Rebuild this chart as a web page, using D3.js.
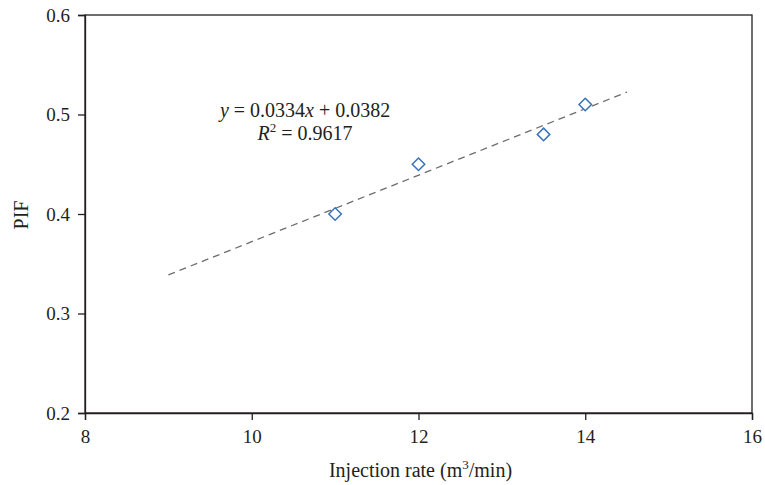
<!doctype html>
<html lang="en">
<head>
<meta charset="UTF-8">
<title>PIF vs injection rate</title>
<style>
  body { margin: 0; background: #fff; }
  text { font-family: "Liberation Serif", "DejaVu Serif", serif; fill: #231f20; }
</style>
</head>
<body>
<svg id="chart" width="765" height="485"></svg>
<script src="https://d3js.org/d3.v7.min.js"></script>
<script>
// data
const injectionRate = [11, 12, 13.5, 14];
const pif = [0.40, 0.45, 0.48, 0.51];
const xTicks = [8, 10, 12, 14, 16];
const yTicks = [0.2, 0.3, 0.4, 0.5, 0.6];
const fitSlope = 0.0334, fitIntercept = 0.0382;
const fitRange = [9, 14.5];

let margin = {top: 15, right: 13, bottom: 72, left: 85},
    width = 765 - margin.left - margin.right,
    height = 485 - margin.top - margin.bottom;

let x = d3.scaleLinear().domain([8, 16]).range([0, width]);
let y = d3.scaleLinear().domain([0.2, 0.6]).range([height, 0]);

let svg = d3.select("#chart")
    .append("g")
    .attr("transform", `translate(${margin.left},${margin.top})`);

// frame
svg.append("rect")
    .attr("width", width).attr("height", height)
    .attr("fill", "none").attr("stroke", "#231f20").attr("stroke-width", 1.3);

let xAxis = svg.append("g")
    .attr("transform", `translate(0,${height})`)
    .call(d3.axisBottom(x).tickValues(xTicks).tickSize(7).tickPadding(10).tickFormat(d3.format("d")));
let yAxis = svg.append("g")
    .call(d3.axisLeft(y).tickValues(yTicks).tickSize(7).tickPadding(8).tickFormat(d3.format(".1f")));

[xAxis, yAxis].forEach(a => {
    a.select(".domain").attr("stroke", "#231f20").attr("stroke-width", 1.3);
    a.selectAll(".tick line").attr("stroke", "#231f20").attr("stroke-width", 1.3);
    a.selectAll("text").attr("font-size", "19px").attr("font-family", null).attr("fill", "#231f20");
});

// trend line
let fitLine = d3.line()
    .x(d => x(d))
    .y(d => y(fitSlope * d + fitIntercept));

svg.append("path")
    .datum(fitRange)
    .attr("d", fitLine)
    .attr("fill", "none")
    .attr("stroke", "#6d6d6d")
    .attr("stroke-width", 1.3)
    .attr("stroke-dasharray", "7,5");

// diamond markers
let pts = injectionRate.map((v, i) => ({x: v, y: pif[i]}));
svg.selectAll(".pt")
    .data(pts)
    .enter()
    .append("path")
    .attr("class", "pt")
    .attr("d", d3.symbol().type(d3.symbolDiamond2).size(100))
    .attr("transform", d => `translate(${x(d.x)},${y(d.y)})`)
    .attr("fill", "#fff")
    .attr("stroke", "#3b73b9")
    .attr("stroke-width", 1.5);

// equation
let eqX = x(10.64);
let eq = svg.append("text")
    .attr("x", eqX).attr("y", 102)
    .attr("text-anchor", "middle")
    .attr("font-size", "20px");
eq.append("tspan").attr("font-style", "italic").text("y");
eq.append("tspan").text(" = 0.0334");
eq.append("tspan").attr("font-style", "italic").text("x");
eq.append("tspan").text(" + 0.0382");

let r2 = svg.append("text")
    .attr("x", eqX).attr("y", 125)
    .attr("text-anchor", "middle")
    .attr("font-size", "20px");
r2.append("tspan").attr("font-style", "italic").text("R");
r2.append("tspan").attr("font-size", "13px").attr("dy", -8).text("2");
r2.append("tspan").attr("dy", 8).text(" = 0.9617");

// axis titles
let xt = svg.append("text")
    .attr("x", width / 2 + 2).attr("y", height + 64)
    .attr("text-anchor", "middle")
    .attr("font-size", "20px");
xt.append("tspan").text("Injection rate (m");
xt.append("tspan").attr("font-size", "13px").attr("dy", -8).text("3");
xt.append("tspan").attr("dy", 8).text("/min)");

svg.append("text")
    .attr("transform", `translate(-57,${height / 2 + 1}) rotate(-90)`)
    .attr("text-anchor", "middle")
    .attr("font-size", "20px")
    .text("PIF");
</script>
</body>
</html>
